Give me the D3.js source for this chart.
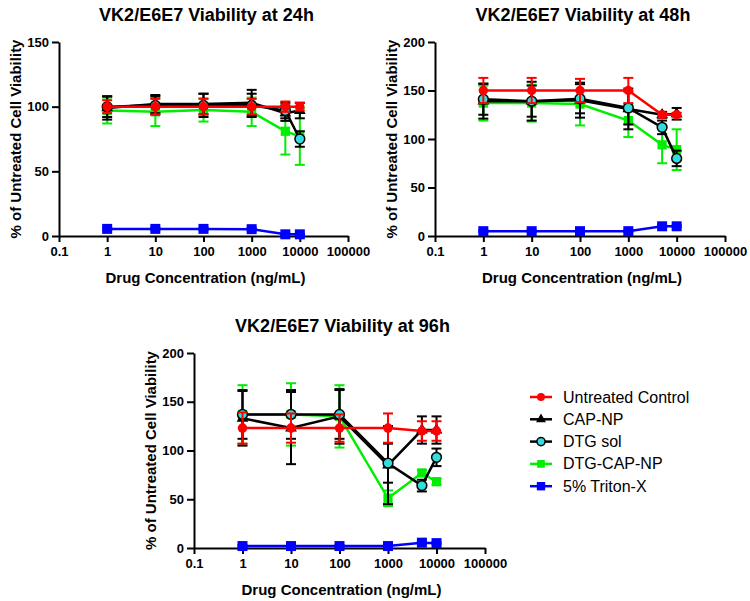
<!DOCTYPE html>
<html>
<head>
<meta charset="utf-8">
<script src="https://cdn.jsdelivr.net/npm/d3@7"></script>
<style>
  body { margin: 0; background: #fff; }
  svg { font-family: 'Liberation Sans', Arial, sans-serif; }
  .ejes path, .ejes line { stroke: #000; stroke-width: 2; }
  .ejes text { font-size: 13px; font-weight: bold; fill: #000; }
</style>
</head>
<body>
<div id="graf"></div>
<script>
// concentrations (ng/mL)
const concs = [1, 10, 100, 1000, 5000, 10000]
const xTicks = [0.1, 1, 10, 100, 1000, 10000, 100000]

const seriesNames = ['Untreated Control', 'CAP-NP', 'DTG sol', 'DTG-CAP-NP', '5% Triton-X']

// 24h
const untreated24 = [100, 100, 100, 100, 100, 100]
const untreated24Err = [5, 6, 6, 6, 4, 3]
const capnp24 = [99, 102, 102, 103, 95, 97]
const capnp24Err = [9, 7, 8, 10, 6, 6]
const dtgsol24 = [100, 101, 101, 101, 97, 75]
const dtgsol24Err = [8, 7, 9, 9, 6, 6]
const dtgcap24 = [97, 96, 97.5, 96, 81, 77]
const dtgcap24Err = [10, 11, 9, 11, 18, 22]
const triton24 = [5.5, 5.5, 5.5, 5.3, 1.3, 1.3]
const triton24Err = [1, 1, 1, 1, 0.5, 0.5]

// 48h
const untreated48 = [150, 150, 150, 150, 125, 125]
const untreated48Err = [13, 13, 12, 13, 2, 2]
const capnp48 = [139, 139, 140, 131, 125, 126]
const capnp48Err = [18, 20, 18, 21, 3, 6]
const dtgsol48 = [141, 139, 141.5, 132, 112, 80]
const dtgsol48Err = [16, 16, 15, 17, 7, 8]
const dtgcap48 = [137, 137, 136, 119, 94, 89]
const dtgcap48Err = [18, 19, 22, 17, 19, 21]
const triton48 = [5, 5, 5, 5, 10, 10]
const triton48Err = [1, 1, 1, 1, 1, 1]

// 96h
const untreated96 = [123, 123, 123, 123, 120, 120]
const untreated96Err = [16, 15, 14, 15, 10, 10]
const capnp96 = [133, 123, 135, 85, 121, 121]
const capnp96Err = [28, 37, 28, 40, 14, 14]
const dtgsol96 = [137, 137, 137, 87, 64, 93]
const dtgsol96Err = [25, 25, 25, 20, 6, 9]
const dtgcap96 = [137, 137, 135, 51, 77, 68]
const dtgcap96Err = [30, 32, 32, 8, 3, 3]
const triton96 = [2, 2, 2, 2, 5.5, 5]
const triton96Err = [1, 1, 1, 1, 1, 1]

const colores = ['#ff0000', '#000000', '#000000', '#00ee00', '#0000ff']
const fills = ['#ff0000', '#000000', '#33dddd', '#00ee00', '#0000ff']
const symbols = [d3.symbolCircle, d3.symbolTriangle, d3.symbolCircle, d3.symbolSquare, d3.symbolSquare]
const symSize = [70, 60, 75, 85, 100]

const paneles = [
  { title: 'VK2/E6E7 Viability at 24h', x0: 59, x1: 348, yTop: 42, yBot: 236, yMax: 150,
    vals: [untreated24, capnp24, dtgsol24, dtgcap24, triton24],
    errs: [untreated24Err, capnp24Err, dtgsol24Err, dtgcap24Err, triton24Err] },
  { title: 'VK2/E6E7 Viability at 48h', x0: 435, x1: 725, yTop: 42, yBot: 236, yMax: 200,
    vals: [untreated48, capnp48, dtgsol48, dtgcap48, triton48],
    errs: [untreated48Err, capnp48Err, dtgsol48Err, dtgcap48Err, triton48Err] },
  { title: 'VK2/E6E7 Viability at 96h', x0: 194, x1: 485, yTop: 353, yBot: 548, yMax: 200,
    vals: [untreated96, capnp96, dtgsol96, dtgcap96, triton96],
    errs: [untreated96Err, capnp96Err, dtgsol96Err, dtgcap96Err, triton96Err] }
]

const svg = d3.select('#graf')
  .append('svg')
  .attr('width', 750)
  .attr('height', 601)

// draw order: blue, green, CAP-NP, DTG sol, red on top
const orden = [4, 3, 1, 2, 0]

paneles.forEach(p => {
  const x = d3.scaleLog().domain([0.1, 100000]).range([p.x0, p.x1])
  const y = d3.scaleLinear().domain([0, p.yMax]).range([p.yBot, p.yTop])
  const g = svg.append('g')

  g.append('g')
    .attr('class', 'ejes')
    .attr('transform', `translate(0, ${p.yBot})`)
    .call(d3.axisBottom(x).tickValues(xTicks).tickFormat(d => String(d)).tickSize(6).tickSizeOuter(0).tickPadding(5))

  g.append('g')
    .attr('class', 'ejes')
    .attr('transform', `translate(${p.x0}, 0)`)
    .call(d3.axisLeft(y).ticks(p.yMax / 50).tickSize(7).tickSizeOuter(0).tickPadding(3))

  g.selectAll('.ejes .domain').attr('stroke-width', 2.5)

  const cx = (p.x0 + p.x1) / 2
  g.append('text')
    .attr('x', cx + 3)
    .attr('y', p.yTop - 21)
    .attr('text-anchor', 'middle')
    .attr('font-size', 18)
    .attr('font-weight', 'bold')
    .text(p.title)

  g.append('text')
    .attr('x', cx + 2)
    .attr('y', p.yBot + 47)
    .attr('text-anchor', 'middle')
    .attr('font-size', 15)
    .attr('font-weight', 'bold')
    .text('Drug Concentration (ng/mL)')

  g.append('text')
    .attr('transform', `translate(${p.x0 - 38}, ${(p.yTop + p.yBot) / 2}) rotate(-90)`)
    .attr('text-anchor', 'middle')
    .attr('font-size', 15)
    .attr('font-weight', 'bold')
    .text('% of Untreated Cell Viability')

  orden.forEach(s => {
    const data = concs.map((c, i) => ({ c: c, v: p.vals[s][i], e: p.errs[s][i] }))
    const sg = g.append('g')

    // error bars
    const eb = sg.selectAll('.eb').data(data).enter().append('g')
    eb.append('line')
      .attr('x1', d => x(d.c)).attr('x2', d => x(d.c))
      .attr('y1', d => y(d.v - d.e)).attr('y2', d => y(d.v + d.e))
      .attr('stroke', colores[s]).attr('stroke-width', 2)
    eb.append('line')
      .attr('x1', d => x(d.c) - 5).attr('x2', d => x(d.c) + 5)
      .attr('y1', d => y(d.v + d.e)).attr('y2', d => y(d.v + d.e))
      .attr('stroke', colores[s]).attr('stroke-width', 2)
    eb.append('line')
      .attr('x1', d => x(d.c) - 5).attr('x2', d => x(d.c) + 5)
      .attr('y1', d => y(d.v - d.e)).attr('y2', d => y(d.v - d.e))
      .attr('stroke', colores[s]).attr('stroke-width', 2)

    sg.append('path')
      .datum(data)
      .attr('fill', 'none')
      .attr('stroke', colores[s])
      .attr('stroke-width', 2.5)
      .attr('d', d3.line().x(d => x(d.c)).y(d => y(d.v)))

    sg.selectAll('.pt').data(data).enter()
      .append('path')
      .attr('transform', d => `translate(${x(d.c)}, ${y(d.v)})`)
      .attr('d', d3.symbol().type(symbols[s]).size(symSize[s]))
      .attr('fill', fills[s])
      .attr('stroke', s === 2 ? '#000' : 'none')
      .attr('stroke-width', 1.5)
  })
})

// legend
const legend = svg.append('g')
seriesNames.forEach((n, i) => {
  const yy = 397 + i * 22.3
  legend.append('line')
    .attr('x1', 530).attr('x2', 552).attr('y1', yy).attr('y2', yy)
    .attr('stroke', colores[i]).attr('stroke-width', 2.5)
  legend.append('path')
    .attr('transform', `translate(541, ${yy})`)
    .attr('d', d3.symbol().type(symbols[i]).size(symSize[i] * 0.7))
    .attr('fill', fills[i])
    .attr('stroke', i === 2 ? '#000' : 'none')
    .attr('stroke-width', 1.5)
  legend.append('text')
    .attr('x', 563).attr('y', yy + 5.5)
    .attr('font-size', 16)
    .text(n)
})
</script>
</body>
</html>
